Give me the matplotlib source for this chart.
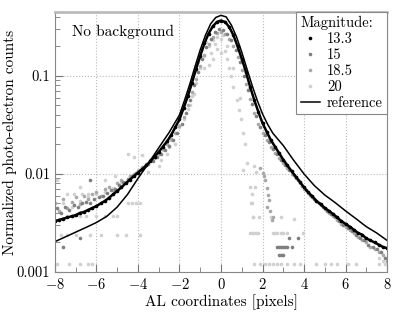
import numpy as np
import matplotlib
matplotlib.use("Agg")
import matplotlib.pyplot as plt
from matplotlib.ticker import FixedLocator, FixedFormatter, MultipleLocator, NullFormatter

plt.rcParams['font.family'] = 'serif'
plt.rcParams['font.serif'] = ['cmr10']
plt.rcParams['mathtext.fontset'] = 'cm'
plt.rcParams['axes.formatter.use_mathtext'] = True

# magnitude 13.3 (sampled every 0.2 px from -8 to 8)
x_133 = np.arange(-8.0, 8.01, 0.2)
y_133 = [0.0033, 0.0034, 0.0035, 0.0036, 0.0037, 0.0038, 0.0040, 0.0041, 0.0043, 0.0045,
         0.0047, 0.0050, 0.0053, 0.0057, 0.0062, 0.0067, 0.0073, 0.0080, 0.0087, 0.0095,
         0.0103, 0.0112, 0.0122, 0.0135, 0.0150, 0.0168, 0.0190, 0.0215, 0.0250, 0.0300,
         0.036, 0.047, 0.062, 0.085, 0.118, 0.160, 0.215, 0.270, 0.320, 0.355,
         0.367, 0.355, 0.315, 0.260, 0.200, 0.150, 0.110, 0.078, 0.057, 0.043,
         0.033, 0.027, 0.0222, 0.0190, 0.0163, 0.0140, 0.0122, 0.0107, 0.0094, 0.0083,
         0.0073, 0.0065, 0.0059, 0.0053, 0.0049, 0.0045, 0.0042, 0.0039, 0.0036, 0.0033,
         0.0031, 0.0029, 0.0027, 0.0025, 0.0024, 0.0022, 0.0021, 0.0020, 0.0019, 0.0018,
         0.00175]

# magnitude 15 (sampled every 0.2 px from -7.9 to 7.9)
x_15 = np.arange(-7.9, 7.91, 0.2)
y_15 = [0.0045, 0.0040, 0.0046, 0.0043, 0.0048, 0.0046, 0.0050, 0.0052, 0.0051, 0.0056,
        0.0058, 0.0060, 0.0064, 0.0068, 0.0071, 0.0077, 0.0082, 0.0088, 0.0095, 0.0102,
        0.0110, 0.0118, 0.0127, 0.0137, 0.0148, 0.0160, 0.0175, 0.0195, 0.0220, 0.0260,
        0.032, 0.042, 0.057, 0.080, 0.110, 0.150, 0.195, 0.240, 0.280, 0.300,
        0.295, 0.270, 0.230, 0.185, 0.140, 0.100, 0.072, 0.052, 0.039, 0.030,
        0.025, 0.021, 0.0180, 0.0158, 0.0140, 0.0124, 0.0110, 0.0097, 0.0086, 0.0076,
        0.0068, 0.0061, 0.0055, 0.0050, 0.0046, 0.0042, 0.0039, 0.0036, 0.0033, 0.0030,
        0.0028, 0.0026, 0.0024, 0.0022, 0.0021, 0.0019, 0.0018, 0.0017, 0.0016, 0.0014]
x_15_extra = [-7.6, -6.8, -6.3, 2.7, 2.8, 2.9, 3.0, 3.1, 3.2, 3.4, 2.8, 2.9, 3.0, 3.3, 3.7]
y_15_extra = [0.0018, 0.0022, 0.0087, 0.0018, 0.0018, 0.0018, 0.0018, 0.0018, 0.0018, 0.0018,
              0.0015, 0.0015, 0.0015, 0.0022, 0.0022]

# magnitude 18.5 (sampled every 0.2 px from -8 to 8)
x_185 = np.arange(-8.0, 8.01, 0.2)
y_185 = [0.0050, 0.0042, 0.0055, 0.0045, 0.0052, 0.0058, 0.0049, 0.0060, 0.0056, 0.0063,
         0.0066, 0.0060, 0.0070, 0.0074, 0.0068, 0.0080, 0.0086, 0.0082, 0.0095, 0.0100,
         0.0108, 0.0118, 0.0125, 0.0138, 0.0150, 0.0160, 0.0180, 0.0200, 0.0230, 0.0260,
         0.031, 0.038, 0.050, 0.068, 0.092, 0.125, 0.165, 0.210, 0.250, 0.275,
         0.280, 0.270, 0.240, 0.200, 0.155, 0.115, 0.082, 0.058, 0.042, 0.032,
         0.026, 0.022, 0.019, 0.0165, 0.0145, 0.0128, 0.0114, 0.0101, 0.0090, 0.0080,
         0.0071, 0.0064, 0.0058, 0.0053, 0.0048, 0.0044, 0.0040, 0.0037, 0.0034, 0.0031,
         0.0029, 0.0027, 0.0025, 0.0023, 0.0021, 0.0020, 0.0018, 0.0017, 0.0016, 0.0015,
         0.0013]
x_185_extra = [1.9, 2.0, 2.05, 2.1, 2.2, 2.25, 2.3, 2.2, 2.35, 2.45, 2.5]
y_185_extra = [0.0114, 0.0102, 0.0095, 0.0087, 0.0072, 0.0061, 0.0054, 0.0046, 0.0042, 0.0034, 0.0036]

# magnitude 20 (low counts, quantized levels)
x_20 = [-7.9, -7.3, -6.8, -6.4, -6.2,
        -7.7, -7.4, -7.0, -6.3, -5.8, -5.0, -4.6, -3.9,
        -7.4, -7.1, -6.8, -6.5, -6.0, -5.6, -5.2, -5.0,
        -4.5, -4.3, -4.1, -3.9,
        -7.4, -7.1, -6.7, -6.4,
        -7.9, -6.8, -5.6, -5.1,
        -4.5, -4.2, -3.8, -3.3, -2.9, -2.6,
        -8.0, -7.6, -7.2, -6.8, -6.4, -6.0, -5.6, -5.2, -4.8, -4.4, -4.0, -3.6, -3.2, -2.8,
        -2.4, -2.0, -1.8, -1.6, -1.4, -1.2, -1.0, -0.8, -0.6, -0.4, -0.2, 0.0, 0.2, 0.4,
        0.5, 0.6, 0.76, 0.85, 0.95, 1.05, 1.16, 1.24, 1.07, 1.4, 1.45, 1.55,
        -1.1, -0.9, -0.7, -0.5, -0.3, 0.1, 0.3, -1.3, -1.5, -2.2, -2.5, -3.0, -3.5,
        -0.8, -0.4, 0.0, 0.3, 0.6, 0.9, -0.6, -0.2,
        1.4, 1.5, 1.6, 1.7, 1.8, 2.5, 2.6, 2.7, 2.9, 3.0, 3.2, 3.95,
        1.55, 1.83, 2.4, 2.9, 3.5,
        1.6, 1.9, 2.1, 2.3, 2.5, 2.7, 2.9, 3.2, 3.5, 3.8, 4.6, 5.0, 5.3, 5.6, 6.1, 6.5, 7.6, 7.9,
        1.6, 1.7, 1.5, 1.5, 1.65, 7.6, 7.8]
y_20 = [0.0012, 0.0012, 0.0012, 0.0012, 0.0012,
        0.0024, 0.0024, 0.0024, 0.0024, 0.0024, 0.0024, 0.0024, 0.0024,
        0.0037, 0.0037, 0.0037, 0.0037, 0.0037, 0.0037, 0.0037, 0.0037,
        0.0050, 0.0050, 0.0050, 0.0050,
        0.0063, 0.0063, 0.0063, 0.0063,
        0.0087, 0.0074, 0.0087, 0.0095,
        0.0160, 0.0150, 0.0155, 0.0150, 0.0140, 0.0160,
        0.0045, 0.0050, 0.0046, 0.0053, 0.0058, 0.0062, 0.0066, 0.0072, 0.0082, 0.0092, 0.011, 0.0125, 0.0145, 0.0175,
        0.022, 0.030, 0.036, 0.046, 0.062, 0.085, 0.120, 0.160, 0.200, 0.235, 0.250, 0.240, 0.180, 0.120,
        0.100, 0.078, 0.057, 0.045, 0.036, 0.026, 0.020, 0.013, 0.011, 0.0074, 0.0050, 0.0036,
        0.140, 0.190, 0.220, 0.170, 0.210, 0.260, 0.150, 0.065, 0.050, 0.020, 0.019, 0.012, 0.0105,
        0.120, 0.150, 0.170, 0.200, 0.120, 0.060, 0.130, 0.190,
        0.0025, 0.0025, 0.0025, 0.0025, 0.0025, 0.0025, 0.0025, 0.0025, 0.0025, 0.0025, 0.0025, 0.0025,
        0.0036, 0.0036, 0.0036, 0.0036, 0.0035,
        0.0012, 0.0012, 0.0012, 0.0012, 0.0012, 0.0012, 0.0012, 0.0012, 0.0012, 0.0012, 0.0012,
        0.0012, 0.0012, 0.0012, 0.0012, 0.0012, 0.0012, 0.0012,
        0.012, 0.0105, 0.0062, 0.0051, 0.0074, 0.0014, 0.0013]

# reference PSF
x_ref = [-8.0, -7.5, -7.0, -6.5, -6.0, -5.5, -5.0, -4.5, -4.0, -3.5, -3.0, -2.5, -2.0,
         -1.75, -1.5, -1.25, -1.0, -0.75, -0.5, -0.25, 0.0, 0.25, 0.5, 0.75, 1.0, 1.25,
         1.5, 1.75, 2.0, 2.25, 2.5, 2.75, 3.0, 3.5, 4.0, 4.5, 5.0, 5.5, 6.0, 6.5, 7.0, 7.5, 8.0]
y_ref = [0.00204, 0.00228, 0.00255, 0.00285, 0.0032, 0.0037, 0.0046, 0.0062, 0.0090, 0.0128,
         0.0185, 0.0265, 0.040, 0.057, 0.083, 0.125, 0.185, 0.26, 0.34, 0.395, 0.415, 0.40,
         0.33, 0.25, 0.175, 0.118, 0.080, 0.056, 0.041, 0.032, 0.026, 0.0225, 0.0195,
         0.0138, 0.0100, 0.0076, 0.0061, 0.0051, 0.0042, 0.0035, 0.0029, 0.0025, 0.0021]

c15, c185, c20 = '#7f7f7f', '#a8a8a8', '#d0d0d0'

fig = plt.figure(figsize=(4.07, 3.13), dpi=100)
ax = fig.add_axes([0.135, 0.131, 0.816, 0.831])

ms = 2.6
ax.plot(x_20, y_20, 'o', color=c20, ms=ms, mew=0, label='20')
ax.plot(x_185, y_185, 'o', color=c185, ms=ms, mew=0, label='18.5')
ax.plot(x_185_extra, y_185_extra, 'o', color=c185, ms=ms, mew=0)
ax.plot(x_15, y_15, 'o', color=c15, ms=ms, mew=0, label='15')
ax.plot(x_15_extra, y_15_extra, 'o', color=c15, ms=ms, mew=0)
ax.plot(x_133, y_133, 'o', color='black', ms=ms, mew=0, label='13.3')
ax.plot(x_133, y_133, '-', color='black', lw=1.8)
ax.plot(x_ref, y_ref, '-', color='black', lw=1.1, label='reference')

ax.set_yscale('log')
ax.set_xlim(-8, 8)
ax.set_ylim(0.001, 0.45)

ax.xaxis.set_major_locator(MultipleLocator(2))
ax.xaxis.set_minor_locator(MultipleLocator(1))
ax.yaxis.set_major_locator(FixedLocator([0.001, 0.01, 0.1]))
ax.yaxis.set_major_formatter(FixedFormatter(['0.001', '0.01', '0.1']))
ax.yaxis.set_minor_formatter(NullFormatter())

ax.grid(True, which='major', ls=':', color='#bbbbbb', lw=0.8)
ax.tick_params(which='both', direction='in', colors='#777777', labelcolor='black',
               labelsize=10.5, top=False, right=False)
ax.tick_params(which='major', length=6)
ax.tick_params(which='minor', length=3.5)
for s in ['left', 'right', 'bottom']:
    ax.spines[s].set_color('#888888')
ax.spines['top'].set_color('#bbbbbb')
ax.spines['top'].set_linewidth(2)

ax.set_xlabel('AL coordinates [pixels]', fontsize=11, labelpad=2)
ax.set_ylabel('Normalized photo-electron counts', fontsize=11, labelpad=0)
ax.text(0.05, 0.95, 'No background', transform=ax.transAxes, ha='left', va='top', fontsize=11)

h, l = ax.get_legend_handles_labels()
order = [l.index(k) for k in ['13.3', '15', '18.5', '20', 'reference']]
leg = ax.legend([h[i] for i in order], [l[i] for i in order], title='Magnitude:',
                loc='upper right', fontsize=10.5, title_fontsize=10.5, alignment='left',
                frameon=True, fancybox=False, framealpha=1, edgecolor='#888888',
                handlelength=1.3, handletextpad=0.5, borderpad=0.3, labelspacing=0.15,
                borderaxespad=0)
leg.get_frame().set_linewidth(0.8)

fig.savefig('out.png', dpi=100)
